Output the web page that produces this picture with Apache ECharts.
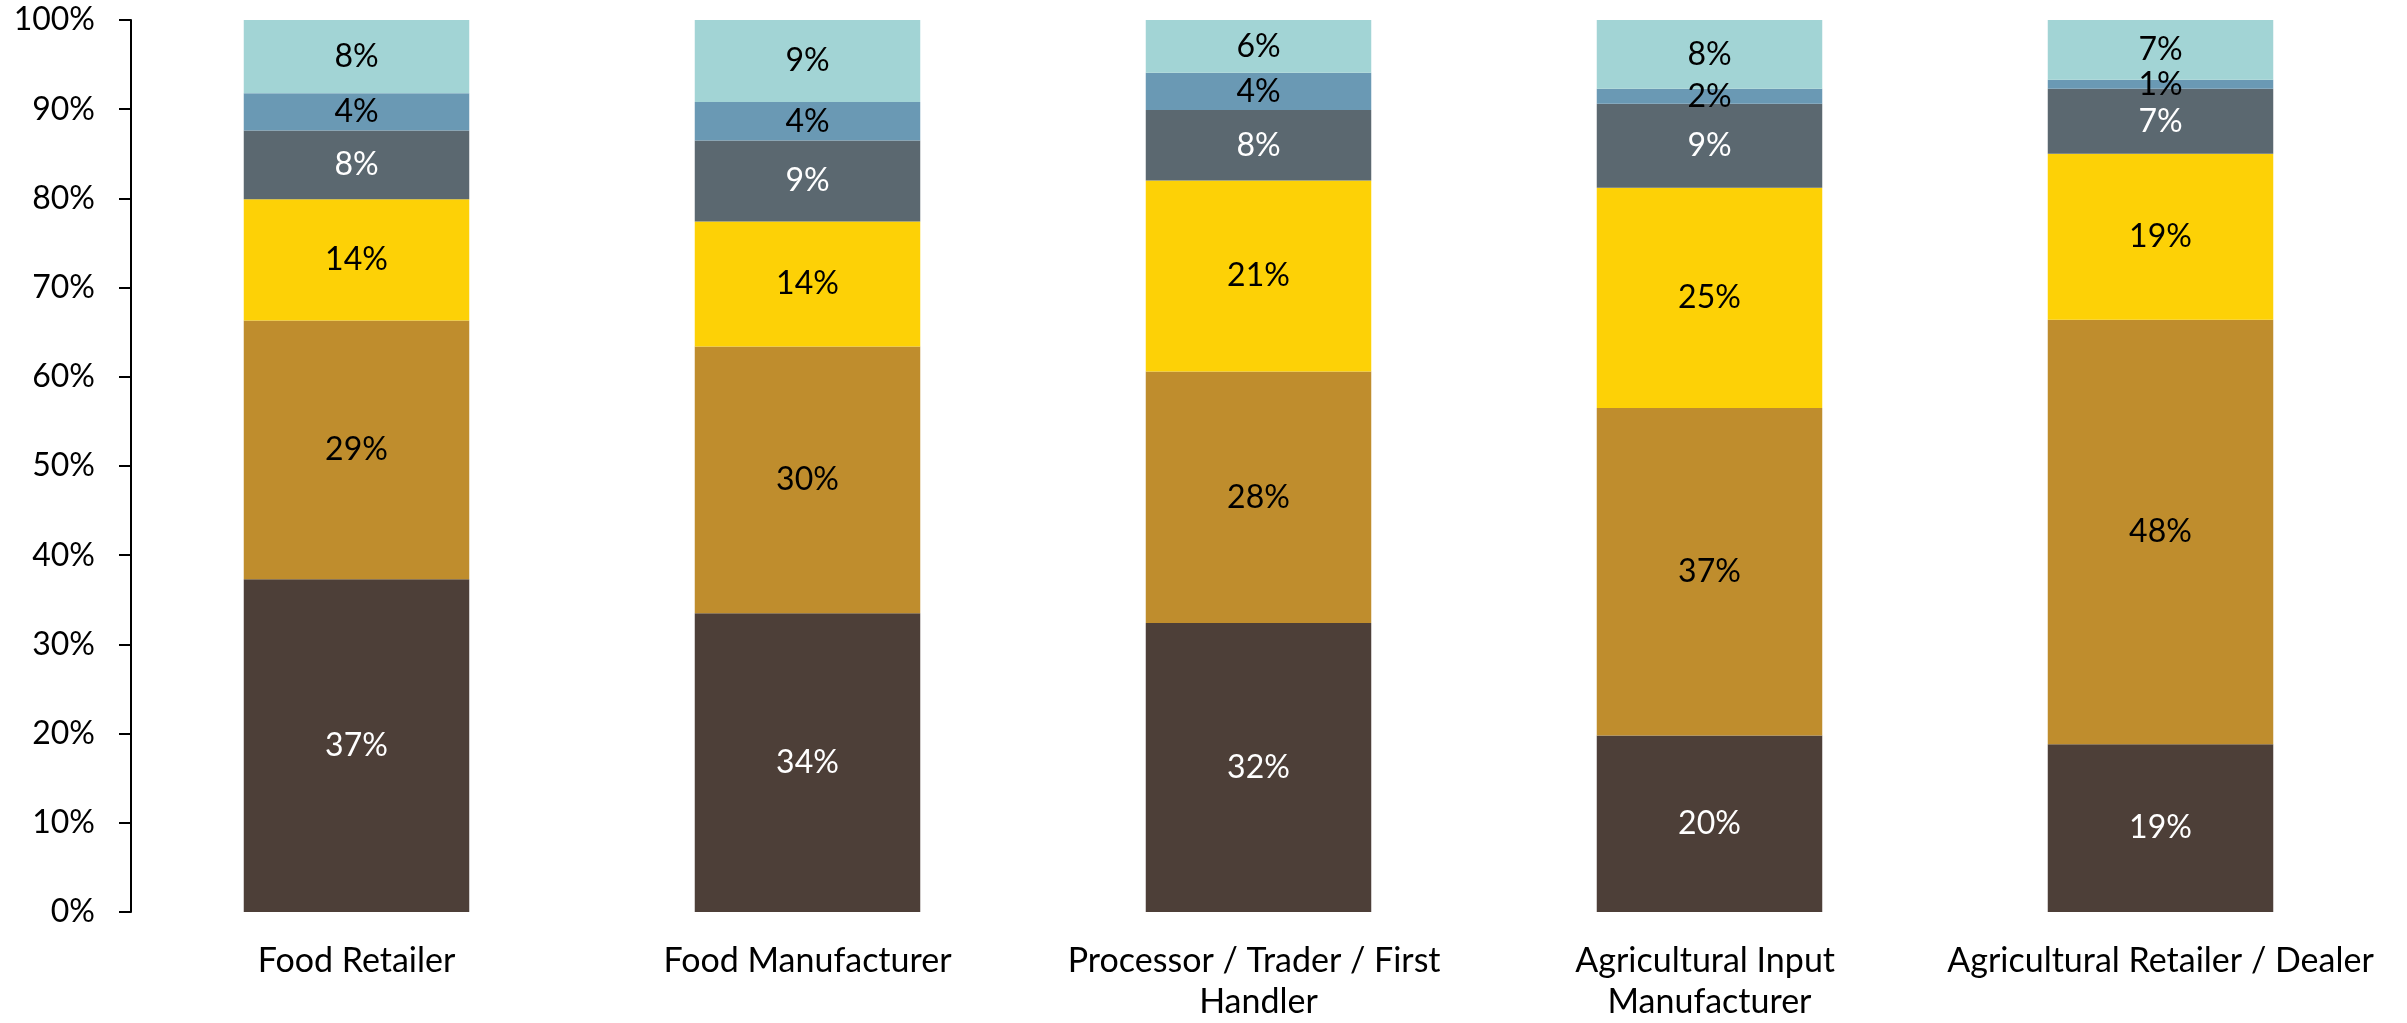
<!DOCTYPE html>
<html>
<head>
<meta charset="utf-8">
<script src="https://cdn.jsdelivr.net/npm/echarts@6/dist/echarts.min.js"></script>
<style>
  html, body { margin: 0; padding: 0; background: #ffffff; }
  #chart { width: 2407px; height: 1023px; }
</style>
</head>
<body>
<div id="chart"></div>
<script>
// Value-chain stages along the x axis
const categories = [
  'Food Retailer',
  'Food Manufacturer',
  'Processor / Trader / First Handler',
  'Agricultural Input Manufacturer',
  'Agricultural Retailer / Dealer'
];

// Share of responses per stage (percent), bottom segment first
const segment1 = [37.3, 33.5, 32.4, 19.8, 18.8];
const segment2 = [29.0, 29.9, 28.2, 36.7, 47.6];
const segment3 = [13.6, 14.0, 21.4, 24.7, 18.6];
const segment4 = [7.7, 9.1, 7.9, 9.4, 7.3];
const segment5 = [4.2, 4.3, 4.2, 1.7, 1.0];
const segment6 = [8.2, 9.2, 5.9, 7.7, 6.7];

const yTicks = [0, 10, 20, 30, 40, 50, 60, 70, 80, 90, 100];

const FONT = 'Lato, "Open Sans", sans-serif';

const layers = [
  { data: segment1, color: '#4D3F38', text: '#FFFFFF' },
  { data: segment2, color: '#BF8D2D', text: '#000000' },
  { data: segment3, color: '#FDD106', text: '#000000' },
  { data: segment4, color: '#5B6870', text: '#FFFFFF' },
  { data: segment5, color: '#6A99B4', text: '#000000' },
  { data: segment6, color: '#A2D4D5', text: '#000000' }
];

const series = layers.map(function (layer, i) {
  return {
    name: 'S' + (i + 1),
    type: 'bar',
    stack: 'total',
    barWidth: '50%',
    data: layer.data,
    itemStyle: { color: layer.color },
    label: {
      show: true,
      position: 'inside',
      formatter: function (p) { return Math.round(p.value) + '%'; },
      color: layer.text,
      fontFamily: FONT,
      fontSize: 32
    },
    emphasis: { disabled: true }
  };
});

const chart = echarts.init(document.getElementById('chart'), null, { renderer: 'canvas' });
chart.setOption({
  animation: false,
  backgroundColor: '#ffffff',
  grid: { left: 131, right: 21, top: 20, bottom: 111, containLabel: false },
  xAxis: {
    type: 'category',
    data: categories,
    axisLine: { show: false },
    axisTick: { show: false },
    axisLabel: {
      interval: 0,
      margin: 29,
      color: '#000000',
      fontFamily: FONT,
      fontSize: 34,
      lineHeight: 41,
      width: 440,
      overflow: 'break'
    }
  },
  yAxis: {
    type: 'value',
    min: yTicks[0],
    max: yTicks[yTicks.length - 1],
    interval: 10,
    splitLine: { show: false },
    axisLine: { show: true, lineStyle: { color: '#000000', width: 2 } },
    axisTick: { show: true, length: 12, lineStyle: { color: '#000000', width: 2 } },
    axisLabel: {
      margin: 36,
      color: '#000000',
      fontFamily: FONT,
      fontSize: 32,
      formatter: function (v) { return v + '%'; }
    }
  },
  series: series
});
</script>
</body>
</html>
